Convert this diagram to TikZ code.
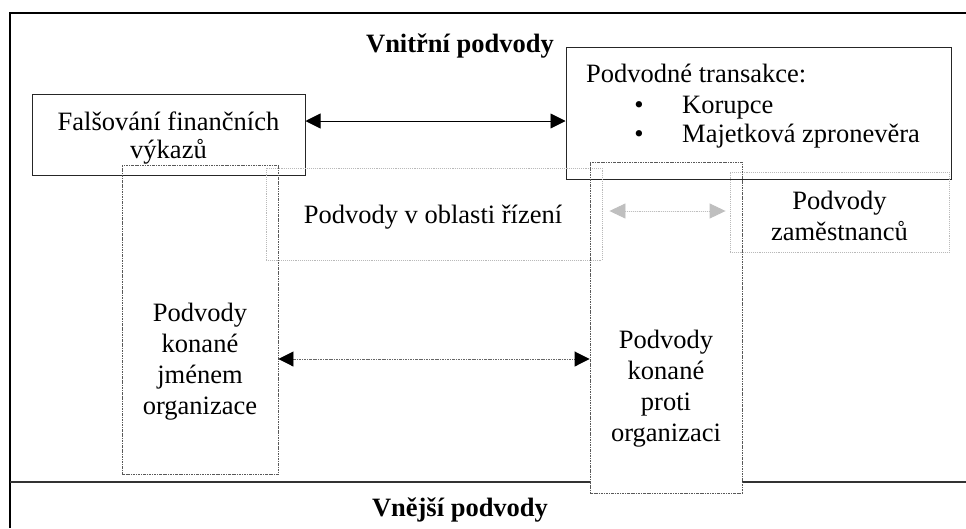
\documentclass[tikz,border=0pt]{standalone}
\usepackage{fontspec}
\setmainfont{Liberation Serif}
\usetikzlibrary{arrows.meta}
\begin{document}
\begin{tikzpicture}[x=1pt,y=-1pt,
  solidbox/.style={draw=black!85, line width=1pt, rectangle, inner sep=0pt},
  lightbox/.style={draw=gray!55, densely dotted, line width=0.9pt, rectangle, inner sep=0pt},
  dashbox/.style={draw=black!65, dash pattern=on 2.5pt off 1pt on 0.8pt off 1pt, line width=0.9pt, rectangle, inner sep=0pt},
  lbl/.style={font=\fontsize{26.5}{31}\selectfont, align=center, inner sep=0pt},
  ttl/.style={font=\fontsize{26.5}{31}\selectfont\bfseries, inner sep=0pt},
  blackarrow/.style={line width=0.9pt, {Triangle[length=15pt,width=15pt]}-{Triangle[length=15pt,width=15pt]}},
  grayarrow/.style={draw=gray!50, densely dotted, line width=0.9pt, {Triangle[length=16pt,width=15pt]}-{Triangle[length=16pt,width=15pt]}},
  darkarrow/.style={draw=black!60, dash pattern=on 2.5pt off 1pt on 0.8pt off 1pt, line width=0.9pt, {Triangle[length=15pt,width=15pt,fill=black,color=black]}-{Triangle[length=15pt,width=15pt,fill=black,color=black]}}
]
\useasboundingbox (0,0) rectangle (966,528);
\fill[white] (0,0) rectangle (966,528);
% frame
\draw[line width=2pt] (10,528) -- (10,13) -- (966,13);
\draw[line width=1.2pt, black!80] (10,482) -- (590,482);
\draw[line width=1.2pt, black!80] (742,482) -- (966,482);
% titles
\node[ttl, anchor=base] (vnitrni) at (460,52) {Vnitřní podvody};
\node[ttl, anchor=base] (vnejsi) at (460,516) {Vnější podvody};
% solid boxes
\node[solidbox, minimum width=273pt, minimum height=81pt] (fals) at (168.5,134.5) {};
\node[lbl, anchor=base] (falst1) at (168.5,130) {Falšování finančních};
\node[lbl, anchor=base] (falst2) at (168.5,158) {výkazů};
\node[solidbox, minimum width=385pt, minimum height=132pt] (trans) at (758.5,113) {};
\node[lbl, anchor=base west] (transt) at (586,82) {Podvodné transakce:};
\node[lbl, anchor=base] (b1) at (639,113) {•};
\node[lbl, anchor=base west] (k1) at (682,113) {Korupce};
\node[lbl, anchor=base] (b2) at (639,142) {•};
\node[lbl, anchor=base west] (k2) at (682,142) {Majetková zpronevěra};
% dotted boxes
\node[lightbox, minimum width=336pt, minimum height=92pt] (rizeni) at (434,214) {};
\node[lbl] (rizenit) at (433,217) {Podvody v oblasti řízení};
\node[lightbox, minimum width=219pt, minimum height=80pt] (zam) at (839.5,212) {};
\node[lbl] (zamt) at (839.5,216) {Podvody\\zaměstnanců};
\node[dashbox, minimum width=156pt, minimum height=309pt] (jmenem) at (200,319.5) {};
\node[lbl] (jmenemt) at (200,362) {Podvody\\konané\\jménem\\organizace};
\node[dashbox, minimum width=152pt, minimum height=331pt] (proti) at (666,327.5) {};
\node[lbl] (protit) at (666,389) {Podvody\\konané\\proti\\organizaci};
% connectors
\coordinate (ya) at (0,121);
\coordinate (yb) at (0,211);
\coordinate (yc) at (0,359);
\draw[blackarrow] (fals.east |- ya) -- (trans.west |- ya);
\draw[grayarrow, fill=gray!55] ([xshift=7pt]rizeni.east |- yb) -- ([xshift=-4pt]zam.west |- yb);
\draw[darkarrow] (jmenem.east |- yc) -- (proti.west |- yc);
\end{tikzpicture}
\end{document}
